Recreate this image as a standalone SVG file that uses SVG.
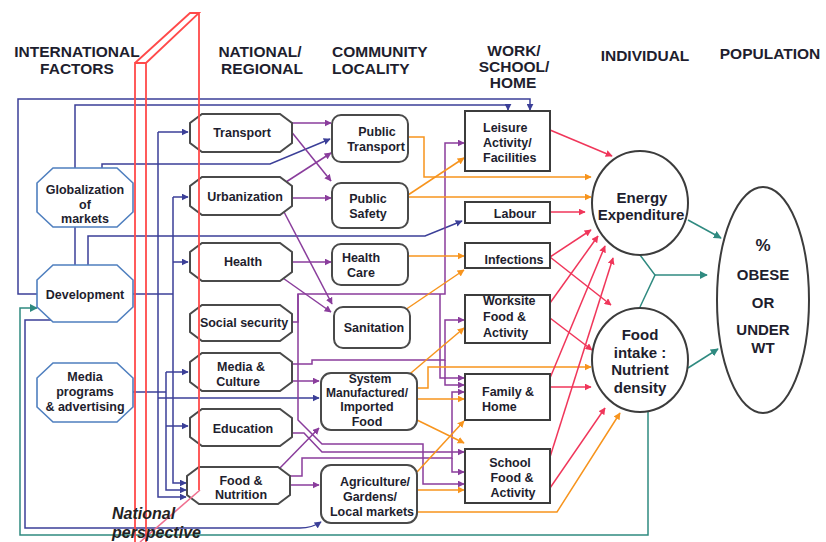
<svg xmlns="http://www.w3.org/2000/svg" width="826" height="542" viewBox="0 0 826 542">
<style>
text{font-family:"Liberation Sans",Arial,sans-serif;font-weight:bold;fill:#1e1e2e;text-anchor:middle}
.hd{font-size:15.5px}
.nt{font-size:12.5px}
.it{font-size:12.5px}
.big{font-size:15px}
.natp{font-size:16px;font-style:italic;text-anchor:start;fill:#222}
.oct{fill:#fff;stroke:#4a4a4a;stroke-width:2}
.ioct{fill:#fff;stroke:#4f7fbf;stroke-width:1.6}
.rr{fill:#fff;stroke:#4a4a4a;stroke-width:2}
.bx{fill:#fff;stroke:#3c3c3c;stroke-width:2}
.el{fill:#fff;stroke:#3c3c3c;stroke-width:2}
.c path{fill:none;stroke-width:1.5}
.nv path{stroke:#3b3f98;marker-end:url(#aNv)}
.pu path{stroke:#8a3d9c;marker-end:url(#aPu)}
.or path{stroke:#f7941d;marker-end:url(#aOr)}
.rd path{stroke:#f0365a;marker-end:url(#aRd)}
.tl path{stroke:#2f8a80;marker-end:url(#aTl)}
.nm{marker-end:none!important}
.rb{fill:none;stroke:#ff4a4a;stroke-width:1.8}
</style>
<defs>
<marker id="aNv" viewBox="0 0 10 10" refX="9" refY="5" markerWidth="7" markerHeight="7" markerUnits="userSpaceOnUse" orient="auto"><path d="M0,0 L10,5 L0,10 z" fill="#3b3f98"/></marker>
<marker id="aPu" viewBox="0 0 10 10" refX="9" refY="5" markerWidth="7" markerHeight="7" markerUnits="userSpaceOnUse" orient="auto"><path d="M0,0 L10,5 L0,10 z" fill="#8a3d9c"/></marker>
<marker id="aOr" viewBox="0 0 10 10" refX="9" refY="5" markerWidth="7" markerHeight="7" markerUnits="userSpaceOnUse" orient="auto"><path d="M0,0 L10,5 L0,10 z" fill="#f7941d"/></marker>
<marker id="aRd" viewBox="0 0 10 10" refX="9" refY="5" markerWidth="7" markerHeight="7" markerUnits="userSpaceOnUse" orient="auto"><path d="M0,0 L10,5 L0,10 z" fill="#f0365a"/></marker>
<marker id="aTl" viewBox="0 0 10 10" refX="9" refY="5" markerWidth="8" markerHeight="8" markerUnits="userSpaceOnUse" orient="auto"><path d="M0,0 L10,5 L0,10 z" fill="#2f8a80"/></marker>
</defs>
<rect width="826" height="542" fill="#fff"/>

<g id="headers">
<text class="hd" x="77" y="57">INTERNATIONAL</text>
<text class="hd" x="77" y="74">FACTORS</text>
<text class="hd" x="260" y="57">NATIONAL/</text>
<text class="hd" x="262" y="74">REGIONAL</text>
<text class="hd" x="332" y="57" style="text-anchor:start">COMMUNITY</text>
<text class="hd" x="332" y="74" style="text-anchor:start">LOCALITY</text>
<text class="hd" x="514" y="56">WORK/</text>
<text class="hd" x="514" y="72">SCHOOL/</text>
<text class="hd" x="513" y="88">HOME</text>
<text class="hd" x="645" y="61">INDIVIDUAL</text>
<text class="hd" x="770" y="59">POPULATION</text>
</g>

<g id="connectors" class="c">
<g class="nv">
<path d="M37,294 H18 V99 H530 V110"/>
<path d="M75,168 V105 H508 V110"/>
<path d="M102,168 V164 H270 L330,139"/>
<path class="nm" d="M75,227 V265"/>
<path d="M88,265 V236 H425 L462,221"/>
<path class="nm" d="M133,294 H173"/>
<path d="M173,197 H188"/>
<path d="M173,262 H188"/>
<path d="M173,197 V483 H186"/>
<path d="M158,132 H188"/>
<path d="M158,132 V497 H186"/>
<path class="nm" d="M133,392 H166"/>
<path d="M166,372 H188"/>
<path d="M166,426 H188"/>
<path d="M166,372 V490 H186"/>
<path d="M158,398 H319"/>
<path d="M53,320 H25 V528 H300 Q312,528 321,522"/>
</g>
<g class="tl">
<path d="M648,412 V535 H20 V308 H37"/>
<path d="M688,220 L721,238"/>
<path d="M688,368 L718,349"/>
<path class="nm" d="M640,255 L655,275 L640,307"/>
<path d="M655,275 H707"/>
</g>
<g class="pu">
<path d="M292,123 H331"/>
<path d="M290,130 L331,181"/>
<path d="M286,182 L331,153"/>
<path d="M292,198 H331"/>
<path d="M283,210 L332,304"/>
<path d="M280,276 L331,312"/>
<path d="M292,262 H331"/>
<path d="M292,322 H298 V294 H445 V143 H464"/>
<path d="M440,294 V378 H464"/>
<path d="M290,364 H312 V360 H445 V320 H464"/>
<path d="M445,360 V385 H464"/>
<path d="M290,381 H319"/>
<path d="M298,294 V420 L322,444 H423 V484 H464"/>
<path d="M292,433 H304 L322,452 H464"/>
<path d="M278,470 L319,428"/>
<path d="M290,485 H319"/>
<path d="M287,476 H302 V458 H452 V392 H464"/>
<path d="M452,458 V472 H464"/>
</g>
<g class="or">
<path d="M406,137 H424 V177 H591"/>
<path d="M405,197 L464,158"/>
<path d="M405,197 H591"/>
<path d="M406,256 H464"/>
<path d="M405,310 L464,270"/>
<path d="M405,378 L464,328"/>
<path d="M417,388 H428 V367 H591"/>
<path d="M417,399 H464"/>
<path d="M417,420 L464,443"/>
<path d="M417,472 L464,421"/>
<path d="M417,490 H464"/>
<path d="M417,512 H557 L620,413"/>
</g>
<g class="rd">
<path d="M550,130 L612,156"/>
<path d="M550,212 H585"/>
<path d="M550,257 L591,230"/>
<path d="M550,257 L611,305"/>
<path d="M550,303 L598,236"/>
<path d="M550,318 L592,350"/>
<path d="M550,378 L605,246"/>
<path d="M550,387 H591"/>
<path d="M550,457 L613,258"/>
<path d="M550,488 L605,408"/>
</g>
</g>

<g id="globalization">
<polygon class="ioct" points="53,168 117,168 133,183 133,212 117,227 53,227 37,212 37,183"/>
<text class="it" x="85" y="194">Globalization</text>
<text class="it" x="85" y="209">of</text>
<text class="it" x="85" y="223">markets</text>
</g>
<g id="development">
<polygon class="ioct" points="53,265 117,265 133,280 133,307 117,322 53,322 37,307 37,280"/>
<text class="it" x="85" y="299">Development</text>
</g>
<g id="media-programs">
<polygon class="ioct" points="53,363 117,363 133,378 133,407 117,422 53,422 37,407 37,378"/>
<text class="it" x="85" y="381">Media</text>
<text class="it" x="85" y="396">programs</text>
<text class="it" x="85" y="411">&amp; advertising</text>
</g>

<g id="transport">
<polygon class="oct" points="202,114 280,114 292,123 292,143 280,152 202,152 190,143 190,123"/>
<text class="nt" x="242" y="137">Transport</text>
</g>
<g id="urbanization">
<polygon class="oct" points="202,177 280,177 292,186 292,206 280,215 202,215 190,206 190,186"/>
<text class="nt" x="245" y="201">Urbanization</text>
</g>
<g id="health">
<polygon class="oct" points="202,243 280,243 292,252 292,272 280,281 202,281 190,272 190,252"/>
<text class="nt" x="243" y="266">Health</text>
</g>
<g id="social-security">
<polygon class="oct" points="202,305 280,305 292,314 292,332 280,341 202,341 190,332 190,314"/>
<text class="nt" x="244" y="327">Social security</text>
</g>
<g id="media-culture">
<polygon class="oct" points="202,353 280,353 292,362 292,382 280,391 202,391 190,382 190,362"/>
<text class="nt" x="241" y="371">Media &amp;</text>
<text class="nt" x="238" y="386">Culture</text>
</g>
<g id="education">
<polygon class="oct" points="202,409 280,409 292,418 292,437 280,446 202,446 190,437 190,418"/>
<text class="nt" x="243" y="433">Education</text>
</g>
<g id="food-nutrition">
<polygon class="oct" points="199,467 278,467 290,476 290,495 278,504 199,504 187,495 187,476"/>
<text class="nt" x="241" y="485">Food &amp;</text>
<text class="nt" x="241" y="499">Nutrition</text>
</g>

<g id="public-transport">
<rect class="rr" x="332" y="115" width="76" height="47" rx="9"/>
<text class="nt" x="377" y="136">Public</text>
<text class="nt" x="376" y="151">Transport</text>
</g>
<g id="public-safety">
<rect class="rr" x="332" y="183" width="76" height="45" rx="9"/>
<text class="nt" x="368" y="203">Public</text>
<text class="nt" x="368" y="218">Safety</text>
</g>
<g id="health-care">
<rect class="rr" x="332" y="244" width="76" height="41" rx="9"/>
<text class="nt" x="361" y="262">Health</text>
<text class="nt" x="361" y="277">Care</text>
</g>
<g id="sanitation">
<rect class="rr" x="334" y="307" width="76" height="41" rx="9"/>
<text class="nt" x="374" y="332">Sanitation</text>
</g>
<g id="system-food">
<rect class="rr" x="321" y="373" width="96" height="57" rx="10"/>
<text class="nt" x="370" y="383" style="font-size:12px">System</text>
<text class="nt" x="367" y="397" style="font-size:12px">Manufactured/</text>
<text class="nt" x="367" y="411">Imported</text>
<text class="nt" x="367" y="426">Food</text>
</g>
<g id="agriculture">
<rect class="rr" x="321" y="465" width="96" height="58" rx="10"/>
<text class="nt" x="375" y="486">Agriculture/</text>
<text class="nt" x="370" y="501">Gardens/</text>
<text class="nt" x="372" y="516">Local markets</text>
</g>

<g id="leisure">
<rect class="bx" x="465" y="111" width="85" height="60"/>
<text class="nt" x="483" y="132" style="text-anchor:start">Leisure</text>
<text class="nt" x="483" y="147" style="text-anchor:start">Activity/</text>
<text class="nt" x="483" y="162" style="text-anchor:start">Facilities</text>
</g>
<g id="labour">
<rect class="bx" x="465" y="202" width="85" height="21"/>
<text class="nt" x="515" y="218">Labour</text>
</g>
<g id="infections">
<rect class="bx" x="465" y="243" width="85" height="25"/>
<text class="nt" x="514" y="264">Infections</text>
</g>
<g id="worksite">
<rect class="bx" x="465" y="295" width="85" height="48"/>
<text class="nt" x="483" y="305" style="text-anchor:start">Worksite</text>
<text class="nt" x="483" y="321" style="text-anchor:start">Food &amp;</text>
<text class="nt" x="483" y="337" style="text-anchor:start">Activity</text>
</g>
<g id="family-home">
<rect class="bx" x="465" y="374" width="85" height="46"/>
<text class="nt" x="482" y="396" style="text-anchor:start">Family &amp;</text>
<text class="nt" x="482" y="411" style="text-anchor:start">Home</text>
</g>
<g id="school">
<rect class="bx" x="465" y="449" width="85" height="54"/>
<text class="nt" x="510" y="467">School</text>
<text class="nt" x="512" y="482">Food &amp;</text>
<text class="nt" x="513" y="497">Activity</text>
</g>

<g id="energy-expenditure">
<ellipse class="el" cx="640" cy="203" rx="48" ry="52"/>
<text class="big" x="642" y="203">Energy</text>
<text class="big" x="641" y="220">Expenditure</text>
</g>
<g id="food-intake">
<ellipse class="el" cx="640" cy="360" rx="48" ry="52"/>
<text class="big" x="640" y="340">Food</text>
<text class="big" x="640" y="358">intake :</text>
<text class="big" x="640" y="375">Nutrient</text>
<text class="big" x="640" y="393">density</text>
</g>
<g id="population">
<ellipse class="el" cx="763" cy="300" rx="46" ry="113"/>
<text class="big" x="763" y="251" style="font-size:17px">%</text>
<text class="big" x="763" y="280">OBESE</text>
<text class="big" x="763" y="308">OR</text>
<text class="big" x="763" y="335">UNDER</text>
<text class="big" x="763" y="353">WT</text>
</g>

<g id="national-perspective">
<path class="rb" d="M135,542 V63 H146 V542 M135,63 L190,13 H199 L146,63 M199,13 V490"/>
<path d="M200,490 L140,542" stroke="#f07090" stroke-width="1.6" fill="none"/>
<text class="natp" x="112" y="519">National</text>
<text class="natp" x="112" y="538">perspective</text>
</g>
</svg>
